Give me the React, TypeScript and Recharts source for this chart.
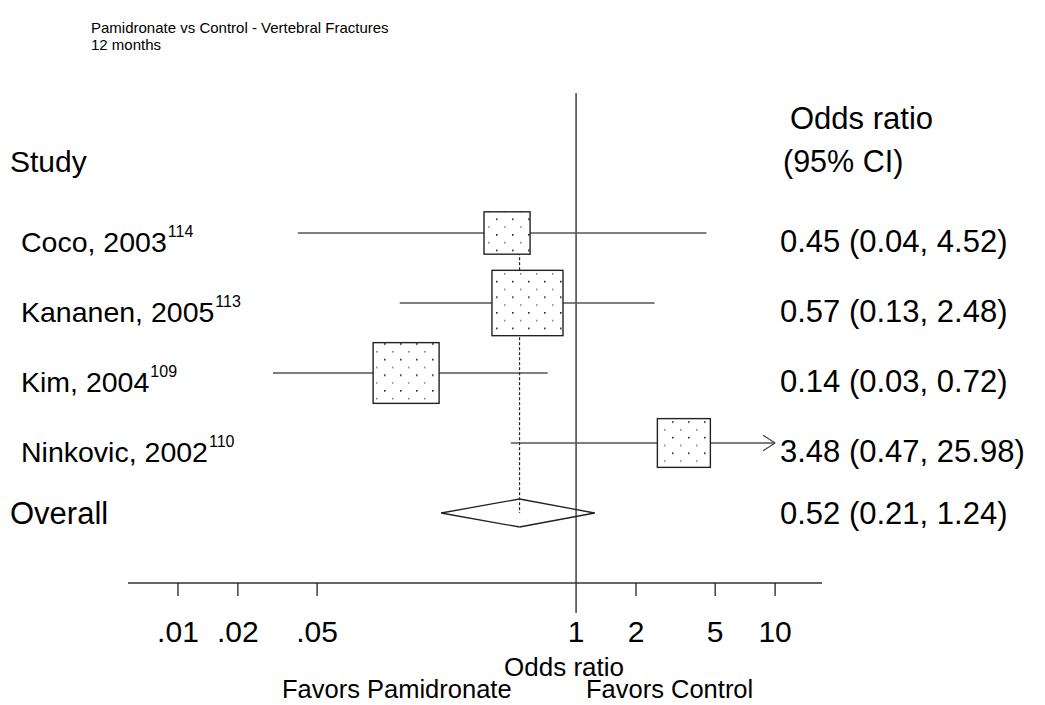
import React from "react";
import { ComposedChart, Scatter, ErrorBar, XAxis, YAxis, ReferenceLine } from "recharts";

// forest plot: pamidronate vs control, vertebral fractures at 12 months
const studies = ["Coco, 2003", "Kananen, 2005", "Kim, 2004", "Ninkovic, 2002"];
const refs = ["114", "113", "109", "110"];
const oddsRatio = [0.45, 0.57, 0.14, 3.48];
const ciLow = [0.04, 0.13, 0.03, 0.47];
const ciHigh = [4.52, 2.48, 0.72, 25.98];
const weights = [14.8, 35.2, 30.4, 19.6];

const overallOR = 0.52;
const overallLow = 0.21;
const overallHigh = 1.24;

const tickValues = [0.01, 0.02, 0.05, 1, 2, 5, 10];
const tickLabels = [".01", ".02", ".05", "1", "2", "5", "10"];

const CLIP = 10; // CIs beyond this are drawn with an arrow
const OVERALL_ROW = studies.length + 1;
const FONT = "'Liberation Sans', Arial, Helvetica, sans-serif";

const rows = studies.map((s, i) => ({
  name: s,
  or: oddsRatio[i],
  k: i + 1,
  w: weights[i],
  err: [oddsRatio[i] - ciLow[i], Math.min(ciHigh[i], CLIP) - oddsRatio[i]],
}));

const fmt = (v: number) => v.toFixed(2);

function BoxShape(props: any) {
  const { cx, cy, payload } = props;
  const w = 11.97 * Math.sqrt(payload.w);
  const h = w * 0.92;
  return <rect x={cx - w / 2} y={cy - h / 2} width={w} height={h} fill="url(#dots)" stroke="#222" strokeWidth={1.4} />;
}

function XTick(props: any) {
  const { x, y, payload } = props;
  const v = payload.value;
  const label = tickLabels[tickValues.indexOf(v)];
  return (
    <g>
      <line x1={x} x2={x} y1={y} y2={y + (v === 1 ? 30 : 13)} stroke="#222" strokeWidth={1.3} />
      <text x={x} y={y + 59} textAnchor="middle" fontSize={30} fill="#000" fontFamily={FONT}>{label}</text>
    </g>
  );
}

function LeftTick(props: any) {
  const { y, payload } = props;
  const k = payload.value;
  if (k === 0) return <text x={10} y={y + 9} fontSize={30} fill="#000" fontFamily={FONT}>Study</text>;
  if (k === OVERALL_ROW) return <text x={10} y={y + 11} fontSize={31} fill="#000" fontFamily={FONT}>Overall</text>;
  const i = k - 1;
  return (
    <text x={21} y={y + 19} fontSize={28.5} fill="#000" fontFamily={FONT}>
      {studies[i]}
      <tspan dx={1} dy={-15} fontSize={16}>{refs[i]}</tspan>
    </text>
  );
}

function RightTick(props: any) {
  const { y, payload } = props;
  const k = payload.value;
  if (k < 0) return <text x={790} y={y + 8} fontSize={31} fill="#000" fontFamily={FONT}>Odds ratio</text>;
  if (k === 0) return <text x={783} y={y + 9} fontSize={30.5} fill="#000" fontFamily={FONT}>(95% CI)</text>;
  const txt = k === OVERALL_ROW
    ? `${fmt(overallOR)} (${fmt(overallLow)}, ${fmt(overallHigh)})`
    : `${fmt(oddsRatio[k - 1])} (${fmt(ciLow[k - 1])}, ${fmt(ciHigh[k - 1])})`;
  return <text x={780} y={y + (k === OVERALL_ROW ? 11 : 19)} fontSize={31} fill="#000" fontFamily={FONT}>{txt}</text>;
}

export default function App() {
  const dh = 0.2; // diamond half height, in rows
  const clipped = rows.filter((r, i) => ciHigh[i] > CLIP);
  return (
    <div style={{ position: "absolute", left: 0, top: 0, width: 1045, height: 705, background: "#fff" }}>
      <svg width={0} height={0} style={{ position: "absolute" }}>
        <defs>
          <pattern id="dots" patternUnits="userSpaceOnUse" width={16} height={15.6}>
            <rect width={16} height={15.6} fill="#fff" />
            <rect x={0} y={0} width={1.6} height={1.6} fill="#222" />
            <rect x={8} y={7.8} width={1.6} height={1.6} fill="#888" />
          </pattern>
        </defs>
      </svg>
      <ComposedChart width={1045} height={705} margin={{ top: 93, right: 0, bottom: 0, left: 0 }}>
        <XAxis
          xAxisId={0}
          type="number"
          dataKey="or"
          scale="log"
          domain={[0.00561, 17.2]}
          allowDataOverflow
          ticks={tickValues}
          interval={0}
          height={122}
          tickSize={0}
          tickMargin={0}
          tickLine={false}
          axisLine={{ stroke: "#333", strokeWidth: 1.3 }}
          tick={<XTick />}
        />
        <YAxis yAxisId="l" type="number" dataKey="k" domain={[-1, 6]} reversed allowDataOverflow ticks={[0, 1, 2, 3, 4, 5]} interval={0} width={128} axisLine={false} tickLine={false} tick={<LeftTick />} />
        <YAxis yAxisId="r" orientation="right" type="number" dataKey="k" domain={[-1, 6]} reversed allowDataOverflow ticks={[-0.6, 0, 1, 2, 3, 4, 5]} interval={0} width={223} axisLine={false} tickLine={false} tick={<RightTick />} />

        <ReferenceLine yAxisId="l" x={1} stroke="#222" strokeWidth={1.3} />

        <Scatter yAxisId="l" data={rows} dataKey="k" shape={<BoxShape />} isAnimationActive={false}>
          <ErrorBar dataKey="err" direction="x" width={0} stroke="#555" strokeWidth={1.3} isAnimationActive={false} />
        </Scatter>

        {clipped.map((r) => [
          <ReferenceLine key={r.name + "a"} yAxisId="l" segment={[{ x: CLIP, y: r.k }, { x: CLIP * 0.87, y: r.k - 0.11 }]} stroke="#444" strokeWidth={1.2} />,
          <ReferenceLine key={r.name + "b"} yAxisId="l" segment={[{ x: CLIP, y: r.k }, { x: CLIP * 0.87, y: r.k + 0.11 }]} stroke="#444" strokeWidth={1.2} />,
        ])}

        <ReferenceLine yAxisId="l" segment={[{ x: overallOR, y: 1.06 }, { x: overallOR, y: OVERALL_ROW }]} stroke="#222" strokeWidth={1.2} strokeDasharray="3 2" />

        <ReferenceLine yAxisId="l" segment={[{ x: overallLow, y: OVERALL_ROW }, { x: overallOR, y: OVERALL_ROW - dh }]} stroke="#222" strokeWidth={1.3} />
        <ReferenceLine yAxisId="l" segment={[{ x: overallOR, y: OVERALL_ROW - dh }, { x: overallHigh, y: OVERALL_ROW }]} stroke="#222" strokeWidth={1.3} />
        <ReferenceLine yAxisId="l" segment={[{ x: overallHigh, y: OVERALL_ROW }, { x: overallOR, y: OVERALL_ROW + dh }]} stroke="#222" strokeWidth={1.3} />
        <ReferenceLine yAxisId="l" segment={[{ x: overallOR, y: OVERALL_ROW + dh }, { x: overallLow, y: OVERALL_ROW }]} stroke="#222" strokeWidth={1.3} />
      </ComposedChart>
      <svg width={1045} height={705} style={{ position: "absolute", left: 0, top: 0, pointerEvents: "none" }} fontFamily={FONT}>
        <text x={91} y={33} fontSize={15} fill="#000">Pamidronate vs Control - Vertebral Fractures</text>
        <text x={91} y={50} fontSize={15} fill="#000">12 months</text>
        <text x={564} y={676} fontSize={26} fill="#000" textAnchor="middle">Odds ratio</text>
        <text x={282} y={698} fontSize={25.5} fill="#000">Favors Pamidronate</text>
        <text x={586} y={698} fontSize={25.5} fill="#000">Favors Control</text>
      </svg>
    </div>
  );
}
